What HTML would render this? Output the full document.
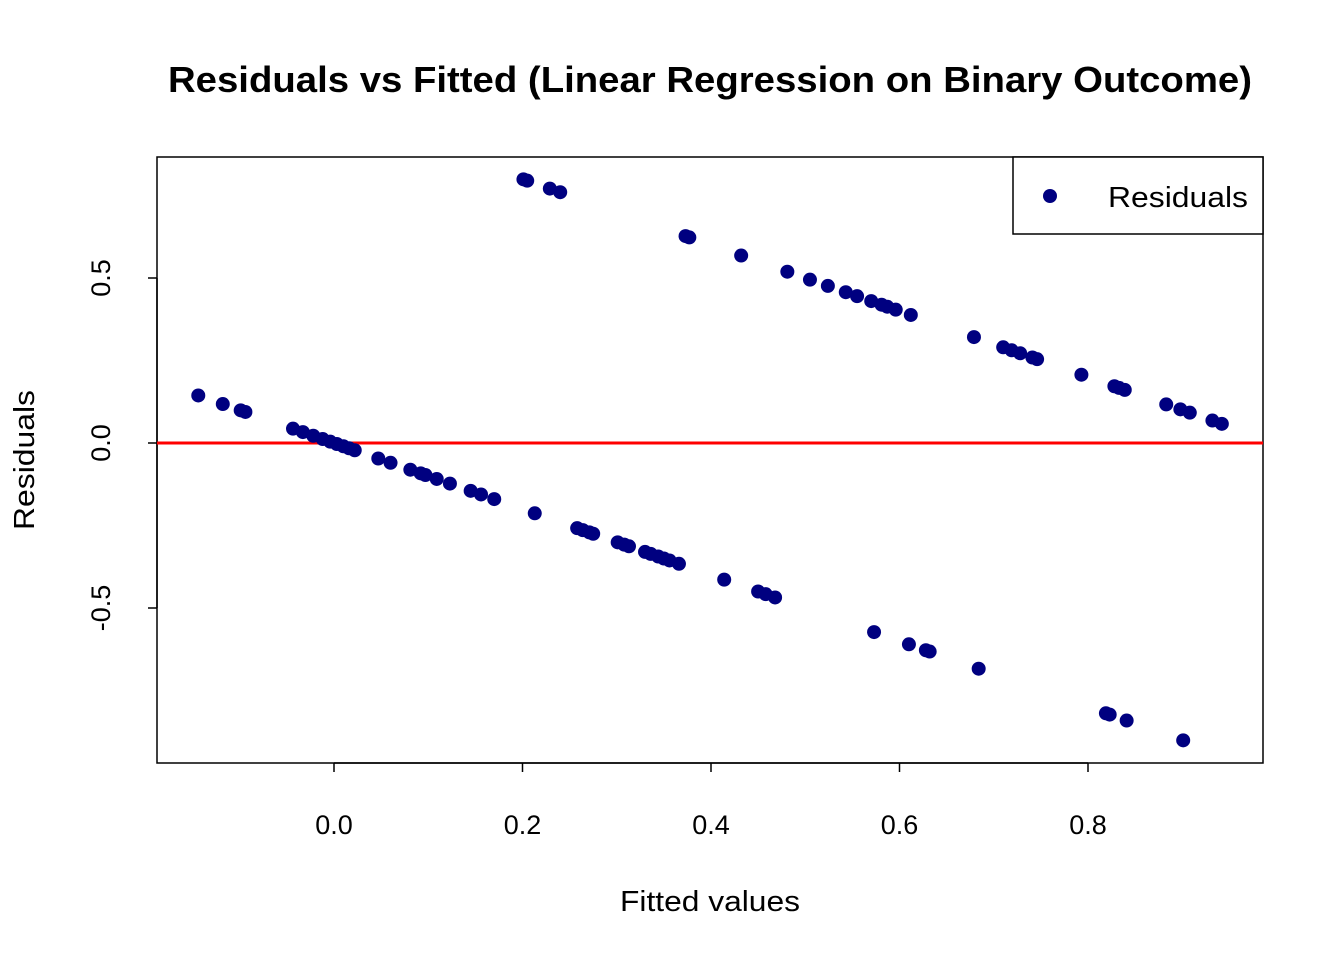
<!DOCTYPE html>
<html><head><meta charset="utf-8"><style>
body{margin:0;background:#fff;}
svg text{font-family:"Liberation Sans",Arial,sans-serif;fill:#000;}
</style></head><body>
<svg id="chart" width="1344" height="960" xmlns="http://www.w3.org/2000/svg">
<text x="168" y="92" font-size="36" font-weight="bold" textLength="1084" lengthAdjust="spacingAndGlyphs">Residuals vs Fitted (Linear Regression on Binary Outcome)</text>
<rect x="157" y="157" width="1106" height="606" fill="none" stroke="#000" stroke-width="1.5"/>
<g id="xaxis"></g>
<g id="yaxis"></g>
<text x="620" y="911" font-size="29" textLength="180" lengthAdjust="spacingAndGlyphs">Fitted values</text>
<text transform="translate(34,530) rotate(-90)" font-size="29" textLength="140" lengthAdjust="spacingAndGlyphs">Residuals</text>
<g id="zero"></g>
<g id="pts"></g>
<g>
<rect x="1013" y="157" width="250" height="77" fill="#fff" stroke="#000" stroke-width="1.5"/>
<circle cx="1050" cy="196" r="7" fill="#000080"/>
<text x="1108" y="207" font-size="29" textLength="140" lengthAdjust="spacingAndGlyphs">Residuals</text>
</g>
</svg>
<script>
const fitted = [-0.144,-0.118,-0.099,-0.094,-0.0435,-0.033,-0.022,-0.012,-0.004,0.003,0.010,0.016,0.022,0.047,0.060,0.081,0.092,0.097,0.109,0.123,0.145,0.156,0.170,0.213,0.258,0.264,0.271,0.275,0.301,0.308,0.313,0.330,0.336,0.344,0.350,0.356,0.366,0.414,0.450,0.458,0.468,0.573,0.610,0.628,0.632,0.684,0.819,0.823,0.841,0.901,
0.201,0.205,0.229,0.240,0.373,0.377,0.432,0.481,0.505,0.524,0.543,0.555,0.570,0.581,0.587,0.596,0.612,0.679,0.710,0.719,0.728,0.741,0.746,0.793,0.828,0.833,0.839,0.883,0.898,0.908,0.932,0.942];
const residuals = [0.144,0.118,0.099,0.094,0.0435,0.033,0.022,0.012,0.004,-0.003,-0.010,-0.016,-0.022,-0.047,-0.060,-0.081,-0.092,-0.097,-0.109,-0.123,-0.145,-0.156,-0.170,-0.213,-0.258,-0.264,-0.271,-0.275,-0.301,-0.308,-0.313,-0.330,-0.336,-0.344,-0.350,-0.356,-0.366,-0.414,-0.450,-0.458,-0.468,-0.573,-0.610,-0.628,-0.632,-0.684,-0.819,-0.823,-0.841,-0.901,
0.799,0.795,0.771,0.760,0.627,0.623,0.568,0.519,0.495,0.476,0.457,0.445,0.430,0.419,0.413,0.404,0.388,0.321,0.290,0.281,0.272,0.259,0.254,0.207,0.172,0.167,0.161,0.117,0.102,0.092,0.068,0.058];
const xTicks = [0.0,0.2,0.4,0.6,0.8];
const xTickLabels = ["0.0","0.2","0.4","0.6","0.8"];
const yTicks = [-0.5,0.0,0.5];
const yTickLabels = ["-0.5","0.0","0.5"];
const NS="http://www.w3.org/2000/svg";
const X = v => 334 + v*942.5;
const Y = v => 443 - v*330;
function mk(t,a,p){const e=document.createElementNS(NS,t);for(const k in a)e.setAttribute(k,a[k]);p.appendChild(e);return e;}
const xa=document.getElementById('xaxis');
mk('line',{x1:X(xTicks[0]),x2:X(xTicks[xTicks.length-1]),y1:763,y2:763,stroke:'#000','stroke-width':1.5},xa);
xTicks.forEach((v,i)=>{
 const l=mk('line',{x1:X(v),x2:X(v),y1:763,y2:772,stroke:'#000','stroke-width':1.5},xa);
 
 
 const t=mk('text',{x:X(v),y:834,'font-size':27,'text-anchor':'middle'},xa);t.textContent=xTickLabels[i];
 
 
});
const ya=document.getElementById('yaxis');
mk('line',{x1:157,x2:157,y1:Y(yTicks[0]),y2:Y(yTicks[yTicks.length-1]),stroke:'#000','stroke-width':1.5},ya);
yTicks.forEach((v,i)=>{
 const l=mk('line',{x1:148,x2:157,y1:Y(v),y2:Y(v),stroke:'#000','stroke-width':1.5},ya);
 
 
 const t=mk('text',{transform:`translate(110,${Y(v)}) rotate(-90)`,'font-size':27,'text-anchor':'middle'},ya);t.textContent=yTickLabels[i];
 
 
});
const zl=mk('line',{x1:157,x2:1263,y1:Y(0),y2:Y(0),stroke:'#ff0000','stroke-width':3},document.getElementById('zero'));


const pg=document.getElementById('pts');
fitted.forEach((f,i)=>{
 const c=mk('circle',{cx:X(f),cy:Y(residuals[i]),r:7,fill:'#000080'},pg);
 
 
});
</script>
</body></html>
